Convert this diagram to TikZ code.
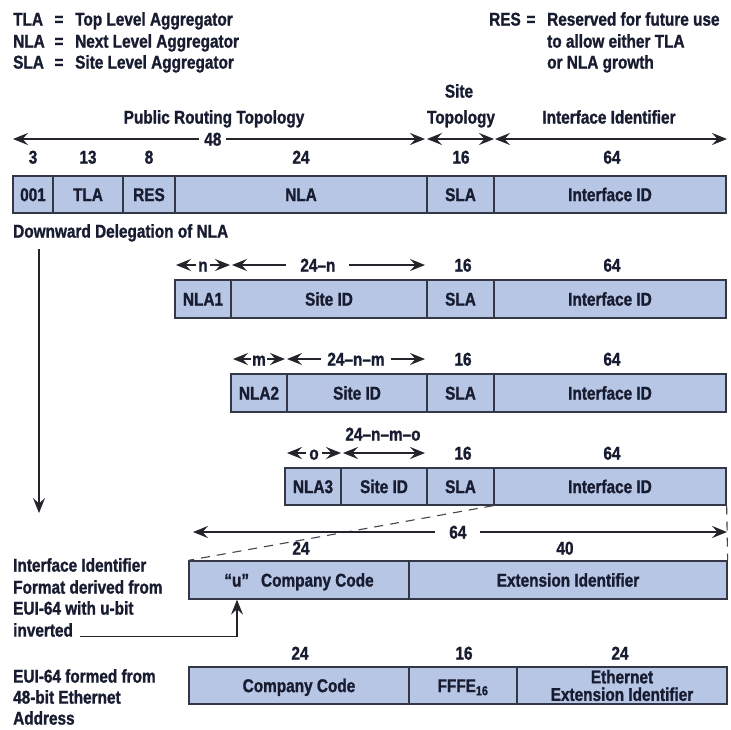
\documentclass[tikz,border=0pt]{standalone}
\usepackage{fontspec}
\setmainfont{Liberation Sans}[FakeStretch=0.83, BoldFeatures={FakeBold=1.2}]
\usetikzlibrary{arrows.meta}
\definecolor{cellfill}{RGB}{183,198,228}
\definecolor{cellline}{RGB}{52,56,70}
\definecolor{ink}{RGB}{24,28,48}
\definecolor{wire}{RGB}{36,36,42}
% one field of an address layout: [style] name, x1, x2, y1, y2, text
\newcommand{\fieldcell}[7][cell]{%
  \node[#1, minimum width={(#4)-(#3)}, minimum height={(#6)-(#5)}] (#2)
    at ({((#3)+(#4))/2},{((#5)+(#6))/2}) {#7};}
\begin{document}
\begin{tikzpicture}[x=1pt,y=-1pt,
  >={Stealth[length=15pt,width=12pt,inset=5.5pt]},
  every node/.style={font=\fontsize{18.5}{21}\selectfont\bfseries, text=ink},
  lbl/.style={inner sep=0pt, text height=13.2pt, text depth=0pt},
  cellbase/.style={draw=cellline, fill=cellfill, line width=1.3pt, inner sep=0pt},
  cell/.style={cellbase, text height=13.2pt, text depth=0pt},
  dim/.style={draw=wire, line width=1.1pt, <->},
  gaplbl/.style={lbl, fill=white, inner xsep=5pt},
  guide/.style={draw=wire, line width=1.1pt},
  dashguide/.style={draw=wire!85, line width=1.1pt, dash pattern=on 9pt off 7pt}]

\fill[white] (0,0) rectangle (731,729);
\useasboundingbox (0,0) rectangle (731,729);

% legend
\node[lbl, anchor=west] (kTLA) at (13,19) {TLA};
\node[lbl] (eqTLA) at (59,19) {=};
\node[lbl, anchor=west] (dTLA) at (75,19) {Top Level Aggregator};
\node[lbl, anchor=west] (kNLA) at (13,41) {NLA};
\node[lbl] (eqNLA) at (59,41) {=};
\node[lbl, anchor=west] (dNLA) at (75,41) {Next Level Aggregator};
\node[lbl, anchor=west] (kSLA) at (13,62) {SLA};
\node[lbl] (eqSLA) at (59,62) {=};
\node[lbl, anchor=west] (dSLA) at (75,62) {Site Level Aggregator};
\node[lbl, anchor=west] (kRES) at (489,19) {RES};
\node[lbl] (eqRES) at (531,19) {=};
\node[lbl, anchor=west] (dRES1) at (547,19) {Reserved for future use};
\node[lbl, anchor=west] (dRES2) at (547,41) {to allow either TLA};
\node[lbl, anchor=west] (dRES3) at (547,62) {or NLA growth};

% topology headings
\node[lbl] (hPub) at (214,117) {Public Routing Topology};
\node[lbl] (hSite1) at (459,91) {Site};
\node[lbl] (hSite2) at (461,117) {Topology};
\node[lbl] (hIf) at (609,117) {Interface Identifier};

\coordinate (p48l) at (13,139);
\coordinate (p48r) at (425,139);
\coordinate (pstl) at (427,139);
\coordinate (pstr) at (494,139);
\coordinate (pifl) at (495,139);
\coordinate (pifr) at (727,139);
\draw[dim] (p48l) -- node[gaplbl, pos=0.485] (n48) {48} (p48r);
\draw[dim] (pstl) -- (pstr);
\draw[dim] (pifl) -- (pifr);

% full address
\node[lbl] (w3) at (33,157) {3};
\node[lbl] (w13) at (88,157) {13};
\node[lbl] (w8) at (149,157) {8};
\node[lbl] (w24) at (301,157) {24};
\node[lbl] (w16) at (461,157) {16};
\node[lbl] (w64) at (612,157) {64};
\fieldcell{fPre}{13}{53}{176}{213}{001}
\fieldcell{fTLA}{53}{123}{176}{213}{TLA}
\fieldcell{fRES}{123}{175}{176}{213}{RES}
\fieldcell{fNLA}{175}{427}{176}{213}{NLA}
\fieldcell{fSLA}{427}{494}{176}{213}{SLA}
\fieldcell{fIf}{494}{726}{176}{213}{Interface ID}

\node[lbl, anchor=west] (tDown) at (13,231) {Downward Delegation of NLA};
\coordinate (dTop) at (39,249);
\coordinate (dBot) at (39,513);
\draw[guide, ->] (dTop) -- (dBot);

% first delegation level
\coordinate (a1l) at (176,265);
\coordinate (a1r) at (230,265);
\coordinate (b1l) at (232,265);
\coordinate (b1r) at (425,265);
\draw[dim] (a1l) -- node[gaplbl, inner xsep=2pt] (ln) {n} (a1r);
\draw[dim] (b1l) -- node[gaplbl, pos=0.445, inner xsep=14pt] (l24n) {24–n} (b1r);
\node[lbl] (u16a) at (463,265) {16};
\node[lbl] (u64a) at (612,265) {64};
\fieldcell{g1a}{175}{231}{280}{318}{NLA1}
\fieldcell{g1b}{231}{427}{280}{318}{Site ID}
\fieldcell{g1c}{427}{494}{280}{318}{SLA}
\fieldcell{g1d}{494}{726}{280}{318}{Interface ID}

% second delegation level
\coordinate (a2l) at (233,359);
\coordinate (a2r) at (285,359);
\coordinate (b2l) at (287,359);
\coordinate (b2r) at (425,359);
\draw[dim] (a2l) -- node[gaplbl, inner xsep=1pt] (lm) {m} (a2r);
\draw[dim] (b2l) -- node[gaplbl, pos=0.5, inner xsep=6pt] (l24nm) {24–n–m} (b2r);
\node[lbl] (u16b) at (463,359) {16};
\node[lbl] (u64b) at (612,359) {64};
\fieldcell{g2a}{231}{287}{374}{412}{NLA2}
\fieldcell{g2b}{287}{427}{374}{412}{Site ID}
\fieldcell{g2c}{427}{494}{374}{412}{SLA}
\fieldcell{g2d}{494}{726}{374}{412}{Interface ID}

% third delegation level
\node[lbl] (l24nmo) at (383,434) {24–n–m–o};
\coordinate (a3l) at (287,453);
\coordinate (a3r) at (341,453);
\coordinate (b3l) at (343,453);
\coordinate (b3r) at (425,453);
\draw[dim] (a3l) -- node[gaplbl, inner xsep=3pt] (lo) {o} (a3r);
\draw[dim] (b3l) -- (b3r);
\node[lbl] (u16c) at (463,453) {16};
\node[lbl] (u64c) at (612,453) {64};
\fieldcell{g3a}{285}{341}{468}{505}{NLA3}
\fieldcell{g3b}{341}{427}{468}{505}{Site ID}
\fieldcell{g3c}{427}{494}{468}{505}{SLA}
\fieldcell{g3d}{494}{726}{468}{505}{Interface ID}

% interface identifier expanded
\fieldcell{e1a}{189}{409}{561}{599}{“u”\hspace{12pt}Company Code}
\fieldcell{e1b}{409}{727}{561}{599}{Extension Identifier}
\draw[dashguide] (g3d.south west) -- (e1a.north west);
\draw[dashguide] (g3d.south east) -- (e1b.north east);
\coordinate (i64l) at (193,532);
\coordinate (i64r) at (727,532);
\draw[guide, <->] (i64l) -- node[gaplbl, pos=0.496, inner xsep=14pt] (l64) {64} (i64r);
\node[lbl] (v24) at (301,548) {24};
\node[lbl] (v40) at (565,548) {40};

\node[lbl, anchor=west] (t1a) at (13,565) {Interface Identifier};
\node[lbl, anchor=west] (t1b) at (13,587) {Format derived from};
\node[lbl, anchor=west] (t1c) at (13,608) {EUI-64 with u-bit};
\node[lbl, anchor=west] (t1d) at (13,630) {inverted};
\draw[guide, ->] ([xshift=7pt]t1d.south east) -| ([xshift=-62pt]e1a.south);

% EUI-64 from the Ethernet address
\node[lbl] (x24a) at (300,653) {24};
\node[lbl] (x16) at (464,653) {16};
\node[lbl] (x24b) at (620,653) {24};
\fieldcell{h1}{189}{409}{667}{704}{Company Code}
\fieldcell{h2}{409}{517}{667}{704}{FFFE\textsubscript{16}}
\fieldcell[cellbase, align=center, font=\fontsize{18.5}{17.5}\selectfont\bfseries]{h3}{517}{727}{667}{704}{Ethernet\\Extension Identifier}

\node[lbl, anchor=west] (t2a) at (13,676) {EUI-64 formed from};
\node[lbl, anchor=west] (t2b) at (13,697) {48-bit Ethernet};
\node[lbl, anchor=west] (t2c) at (13,718) {Address};
\end{tikzpicture}
\end{document}
